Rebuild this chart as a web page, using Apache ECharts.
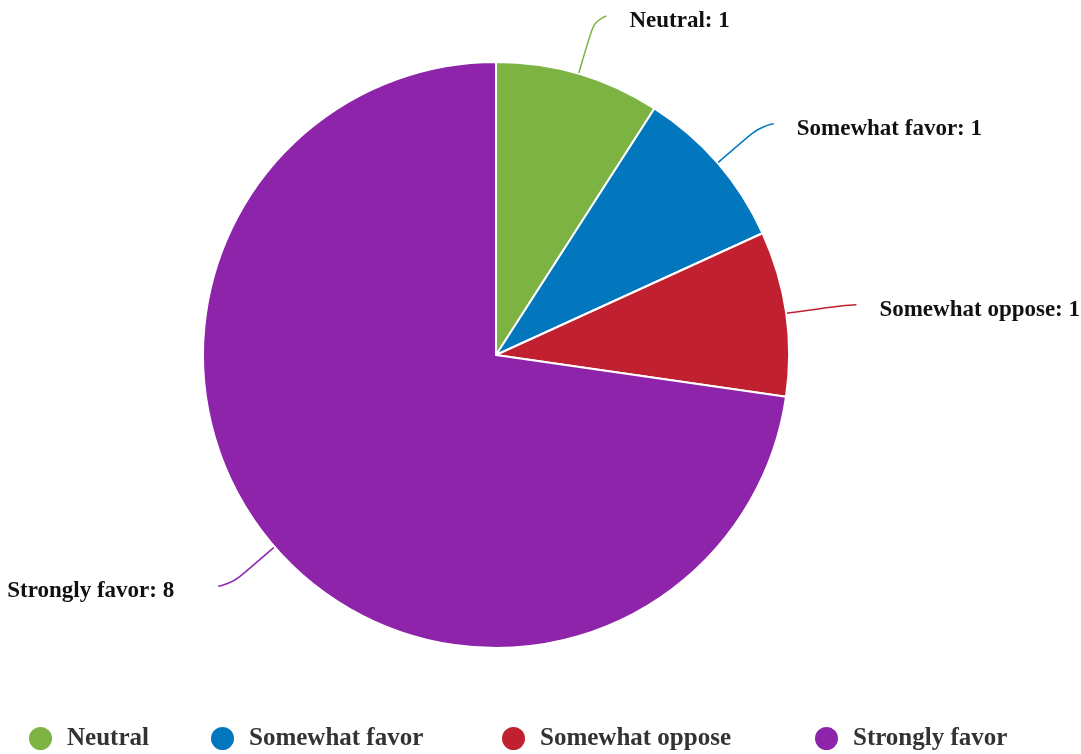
<!DOCTYPE html>
<html>
<head>
<meta charset="utf-8">
<title>Opinion breakdown</title>
<script src="https://cdn.jsdelivr.net/npm/echarts@6/dist/echarts.min.js"></script>
<style>
  html, body { margin: 0; padding: 0; background: #ffffff; }
  #chart { width: 1081px; height: 754px; }
</style>
</head>
<body>
<div id="chart"></div>
<script>
// Response categories and counts
const categories = ['Neutral', 'Somewhat favor', 'Somewhat oppose', 'Strongly favor'];
const counts = [1, 1, 1, 8];
const colors = ['#7cb342', '#0277bd', '#c0202f', '#8e24aa'];

// Left edge of each legend entry, in pixels
const legendLeft = [27, 209, 500, 813];

const font = '"Liberation Serif", "Times New Roman", serif';

const chart = echarts.init(document.getElementById('chart'));

const legends = categories.map((name, i) => ({
  data: [name],
  left: legendLeft[i],
  top: 725,
  padding: 0,
  icon: 'circle',
  itemWidth: 25,
  itemHeight: 25,
  textStyle: {
    fontFamily: font,
    fontWeight: 'bold',
    fontSize: 25,
    color: '#333333',
    padding: [0, 0, 0, 9]
  }
}));

// The large slice's label sits a little further from its leader line
const labelGap = [23, 23, 23, 44];

chart.setOption({
  animation: false,
  color: colors,
  legend: legends,
  series: [{
    type: 'pie',
    center: [496, 355],
    radius: 293,
    startAngle: 90,
    clockwise: true,
    avoidLabelOverlap: false,
    itemStyle: { borderColor: '#ffffff', borderWidth: 2 },
    label: {
      show: true,
      formatter: '{b}: {c}',
      fontFamily: font,
      fontWeight: 'bold',
      fontSize: 23,
      color: '#111111',
      overflow: 'none'
    },
    labelLayout: { dy: 5 },
    labelLine: {
      show: true,
      length: 60,
      length2: 11,
      smooth: 0.8,
      lineStyle: { width: 1.5 }
    },
    data: categories.map((name, i) => ({
      name: name,
      value: counts[i],
      label: { distanceToLabelLine: labelGap[i] }
    }))
  }]
});
</script>
</body>
</html>
